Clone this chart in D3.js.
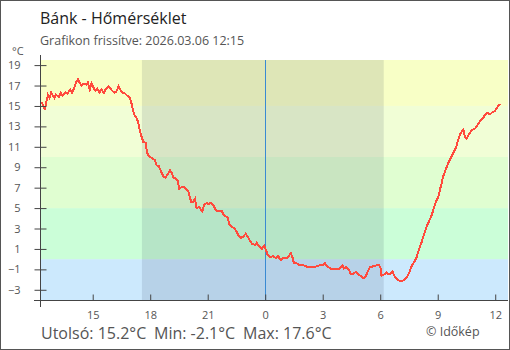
<!DOCTYPE html>
<html>
<head>
<meta charset="utf-8">
<script src="https://cdn.jsdelivr.net/npm/d3@7"></script>
<style>
  body { margin: 0; background: #fff; }
  svg { display: block; font-family: "Open Sans", sans-serif; }
</style>
</head>
<body>
<svg id="chart" width="510" height="350"></svg>
<script>
// Temperature readings, 24 hours ending 2026.03.06 12:15
const times = [
  "12:15","12:20","12:25","12:30","12:35","12:40","12:45","12:50","13:00","13:05",
  "13:15","13:20","13:25","13:35","13:40","13:50","13:55","14:01","14:09","14:14",
  "14:19","14:24","14:33","14:40","14:45","14:51","14:56","15:01","15:08","15:14",
  "15:22","15:27","15:35","15:42","15:50","15:58","16:07","16:14","16:21","16:28",
  "16:35","16:42","16:48","16:56","17:01","17:06","17:12","17:18","17:23","17:28",
  "17:33","17:38","17:46","17:50","17:56","18:05","18:15","18:20","18:27","18:34",
  "18:41","18:48","18:55","19:02","19:07","19:12","19:20","19:26","19:31","19:36",
  "19:43","19:51","19:59","20:04","20:08","20:15","20:20","20:25","20:33","20:43",
  "20:49","20:57","21:02","21:10","21:17","21:25","21:33","21:44","21:49","21:56",
  "22:04","22:07","22:15","22:23","22:31","22:36","22:44","22:51","22:59","23:05",
  "23:12","23:19","23:28","23:33","23:40","23:49","23:57","00:01","00:08","00:15",
  "00:25","00:34","00:41","00:48","00:56","01:05","01:12","01:20","01:26","01:30",
  "01:38","01:49","01:59","02:07","02:18","02:33","02:41","02:51","03:00","03:07",
  "03:14","03:23","03:31","03:49","03:56","04:02","04:06","04:13","04:17","04:23",
  "04:27","04:34","04:41","04:46","04:51","04:57","05:05","05:12","05:17","05:23",
  "05:28","05:38","05:49","05:57","06:01","06:04","06:12","06:20","06:25","06:33",
  "06:39","06:43","06:49","06:53","06:59","07:10","07:17","07:25","07:31","07:38",
  "07:46","07:54","07:59","08:04","08:10","08:15","08:20","08:27","08:34","08:41",
  "08:46","08:51","08:57","09:02","09:07","09:12","09:17","09:23","09:28","09:33",
  "09:41","09:49","09:57","10:04","10:10","10:15","10:20","10:25","10:30","10:39",
  "10:46","10:57","11:04","11:12","11:21","11:28","11:35","11:44","11:52","11:59",
  "12:05","12:10","12:15"
];
const temps = [
  15.4,15.3,15.1,14.6,15.4,16.1,15.8,16.3,15.8,16.1,
  15.9,16.3,16.0,16.3,16.2,16.6,16.3,16.7,17.4,17.6,
  17.3,17.0,17.2,17.1,17.3,16.6,17.2,16.9,16.5,16.7,
  16.3,16.6,16.3,16.7,16.9,16.6,16.3,16.4,16.9,16.5,
  16.3,16.2,16.0,15.8,15.3,14.6,14.0,13.8,13.3,12.5,
  12.0,11.5,11.4,10.4,10.1,9.9,9.7,9.2,9.1,8.6,
  8.1,8.0,8.3,8.7,8.5,8.0,7.9,7.7,6.9,7.0,
  7.1,6.9,6.7,6.1,5.6,5.6,5.9,5.0,5.1,4.7,
  5.3,5.5,5.4,5.5,5.3,4.8,4.7,4.7,4.4,4.2,
  4.0,3.4,3.2,3.0,2.7,2.3,2.1,2.2,2.5,2.2,
  1.8,1.5,1.4,1.6,1.3,1.0,1.3,1.0,0.4,0.2,
  0.3,0.1,0.3,-0.1,0.1,0.1,0.2,0.6,0.1,-0.4,
  -0.4,-0.6,-0.6,-0.7,-0.8,-0.8,-0.7,-0.6,-0.6,-0.4,
  -0.7,-0.9,-1.0,-1.0,-0.8,-0.6,-0.9,-0.8,-0.9,-1.1,
  -1.4,-1.5,-1.3,-1.3,-1.5,-1.6,-1.8,-1.8,-1.5,-1.1,
  -0.8,-0.7,-0.6,-0.6,-0.9,-1.6,-1.5,-1.3,-1.5,-1.4,
  -1.2,-1.6,-1.8,-2.0,-2.1,-2.1,-2.0,-1.7,-1.3,-0.7,
  -0.3,0.2,0.7,1.2,1.7,2.2,2.7,3.3,3.8,4.3,
  4.8,5.3,5.8,6.1,6.8,7.4,8.1,8.6,9.0,9.4,
  9.9,10.4,10.9,11.7,12.2,12.5,12.7,12.0,11.8,12.3,
  12.6,12.8,13.1,13.5,13.8,14.1,14.3,14.2,14.4,14.5,
  14.8,15.0,15.2
];
const startDate = "2026-03-05";
const axisStart = "12:15";
const axisEnd = "12:40";
const yTicks = [-3, -1, 1, 3, 5, 7, 9, 11, 13, 15, 17, 19];
const bandEdges = [-4, 0, 5, 10, 15, 19.5];
const bandColors = ["#cce9fd", "#cbfed8", "#e0fed1", "#f1fed6", "#f8ffc6"];
const nightStart = "17:34";
const nightEnd = "06:11";
const titleText = "Bánk - Hőmérséklet";
const subtitleText = "Grafikon frissítve: 2026.03.06 12:15";
const summaryParts = ["Utolsó: 15.2°C", "Min: -2.1°C", "Max: 17.6°C"];
const creditText = "© Időkép";

const parseDay = d3.timeParse("%Y-%m-%d %H:%M");
const day0 = startDate;
const day1 = d3.timeFormat("%Y-%m-%d")(d3.timeDay.offset(parseDay(startDate + " 00:00"), 1));

// Walk the clock strings, moving to the next day once the clock wraps past midnight
let dayIdx = 0, prevMins = -1;
const data = times.map((t, i) => {
  const [h, m] = t.split(":").map(Number);
  const mins = h * 60 + m;
  if (mins < prevMins) dayIdx++;
  prevMins = mins;
  return { date: parseDay((dayIdx ? day1 : day0) + " " + t), value: temps[i] };
});

const svg = d3.select("#chart");
const plotLeft = 40, plotRight = 508, plotTop = 60, plotBottom = 300;

const x = d3.scaleTime()
  .domain([parseDay(day0 + " " + axisStart), parseDay(day1 + " " + axisEnd)])
  .range([plotLeft, plotRight]);
const y = d3.scaleLinear().domain([-4, 19.5]).range([plotBottom, plotTop]);

// Temperature bands
svg.append("g").selectAll("rect")
  .data(bandColors)
  .join("rect")
  .attr("x", plotLeft)
  .attr("width", plotRight - plotLeft)
  .attr("y", (d, i) => y(bandEdges[i + 1]))
  .attr("height", (d, i) => y(bandEdges[i]) - y(bandEdges[i + 1]))
  .attr("fill", d => d);

// Night shading
const n0 = x(parseDay(day0 + " " + nightStart));
const n1 = x(parseDay(day1 + " " + nightEnd));
svg.append("rect")
  .attr("x", n0).attr("y", plotTop)
  .attr("width", n1 - n0).attr("height", plotBottom - plotTop)
  .attr("fill", "rgba(20,30,60,0.11)");

// Midnight marker
const mid = Math.round(x(parseDay(day1 + " 00:00"))) + 0.5;
svg.append("line")
  .attr("x1", mid).attr("x2", mid)
  .attr("y1", plotTop).attr("y2", plotBottom)
  .attr("stroke", "#3a8ad2").attr("stroke-width", 1);

// Temperature line, drawn without anti-aliasing
svg.append("path")
  .datum(data)
  .attr("d", d3.line().x(d => x(d.date)).y(d => y(d.value)))
  .attr("fill", "none")
  .attr("stroke", "#ff4a3d")
  .attr("stroke-width", 2)
  .attr("shape-rendering", "crispEdges");

// Y axis
const yAxis = svg.append("g")
  .attr("transform", `translate(${plotLeft + 0.5},0)`)
  .call(d3.axisLeft(y).tickValues(yTicks).tickSize(6).tickPadding(14));
yAxis.select(".domain").remove();
yAxis.selectAll(".tick line").attr("x1", -6).attr("x2", 6).attr("stroke", "#444");
yAxis.selectAll(".tick text")
  .attr("font-family", "Open Sans, sans-serif")
  .attr("font-size", 11).attr("fill", "#555");
yAxis.append("line")
  .attr("x1", 0).attr("x2", 0).attr("y1", 55).attr("y2", 307)
  .attr("stroke", "#444");

// X axis
const xAxis = svg.append("g")
  .attr("transform", `translate(0,${plotBottom + 0.5})`)
  .call(d3.axisBottom(x)
    .ticks(d3.timeHour.every(3))
    .tickFormat(d3.timeFormat("%-H"))
    .tickSize(-6).tickSizeOuter(0).tickPadding(11));
xAxis.select(".domain").remove();
xAxis.selectAll(".tick line").attr("stroke", "#444");
xAxis.selectAll(".tick text")
  .attr("font-family", "Open Sans, sans-serif")
  .attr("font-size", 11).attr("fill", "#555");
xAxis.append("line")
  .attr("x1", 34).attr("x2", plotRight).attr("y1", 0).attr("y2", 0)
  .attr("stroke", "#444");

// Unit label
svg.append("text")
  .attr("x", 12).attr("y", 55)
  .attr("font-size", 11).attr("fill", "#555")
  .text("°C");

// Titles
svg.append("text")
  .attr("x", 40).attr("y", 24)
  .attr("font-size", 16).attr("fill", "#222")
  .text(titleText);
svg.append("text")
  .attr("x", 40).attr("y", 45)
  .attr("font-size", 12.5).attr("fill", "#555")
  .text(subtitleText);

// Summary line
const summaryX = [41, 154, 243];
svg.append("g").selectAll("text")
  .data(summaryParts)
  .join("text")
  .attr("x", (d, i) => summaryX[i]).attr("y", 339)
  .attr("font-size", 16).attr("fill", "#555")
  .text(d => d);

svg.append("text")
  .attr("x", 426).attr("y", 336)
  .attr("font-size", 12.5).attr("fill", "#555")
  .text(creditText);

// Frame
svg.append("rect")
  .attr("x", 0.5).attr("y", 0.5)
  .attr("width", 509).attr("height", 349)
  .attr("fill", "none").attr("stroke", "#555");
</script>
</body>
</html>
